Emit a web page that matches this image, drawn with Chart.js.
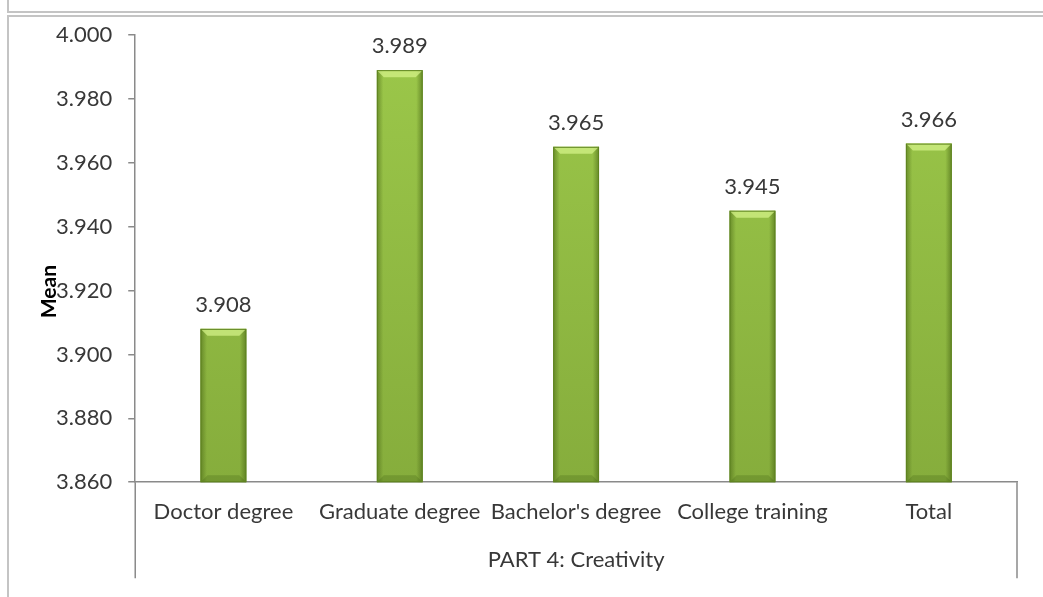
<!DOCTYPE html>
<html>
<head>
<meta charset="utf-8">
<script src="https://cdn.jsdelivr.net/npm/chart.js@4"></script>
<style>
  body { margin: 0; background: #fff; overflow: hidden; }
  #lienzo-caja { position: relative; width: 1043px; height: 597px; }
  .marco { position: absolute; border: 2px solid #c4c4c4; box-sizing: border-box; }
  #marco-sup { left: 7px; top: -4px; width: 1100px; height: 17px; }
  #marco-graf { left: 7px; top: 15px; width: 1100px; height: 700px; }
  canvas { position: absolute; left: 0; top: 0; }
</style>
</head>
<body>
<div id="lienzo-caja">
  <div class="marco" id="marco-sup"></div>
  <div class="marco" id="marco-graf"></div>
  <canvas id="grafica" width="1043" height="597"></canvas>
</div>
<script>
// Datos del gráfico
const categorias = ["Doctor degree", "Graduate degree", "Bachelor's degree", "College training", "Total"];
const medias = [3.908, 3.989, 3.965, 3.945, 3.966];
const ejeMin = 3.86;
const ejeMax = 4.0;
const ejePaso = 0.02;
const tituloEjeX = "PART 4: Creativity";
const tituloEjeY = "Mean";

const fuente = "Lato, 'DejaVu Sans', sans-serif";
const tamFuente = 22;
const colorTexto = "#383838";
const colorEje = "#8a8a8a";

// Etiquetas de valor sobre cada barra
const etiquetasValor = {
  id: "etiquetasValor",
  afterDatasetsDraw(chart) {
    const ctx = chart.ctx;
    const barras = chart.getDatasetMeta(0).data;
    ctx.save();
    ctx.font = `${tamFuente}px ${fuente}`;
    ctx.fillStyle = colorTexto;
    ctx.textAlign = "center";
    ctx.textBaseline = "alphabetic";
    barras.forEach((barra, i) => {
      ctx.fillText(medias[i].toFixed(3), barra.x, barra.y - 17);
    });
    ctx.restore();
  },
};

// Sombreado lateral y bisel de las barras
const biselBarras = {
  id: "biselBarras",
  afterDatasetsDraw(chart) {
    const ctx = chart.ctx;
    const area = chart.chartArea;
    const barras = chart.getDatasetMeta(0).data;
    ctx.save();
    barras.forEach((barra) => {
      const izq = barra.x - barra.width / 2;
      const der = barra.x + barra.width / 2;
      const arriba = barra.y;
      const abajo = Math.min(barra.base, area.bottom);
      const b = 7;

      const lateral = ctx.createLinearGradient(izq, 0, der, 0);
      lateral.addColorStop(0, "rgba(70,100,20,0.55)");
      lateral.addColorStop(0.14, "rgba(70,100,20,0.0)");
      lateral.addColorStop(0.86, "rgba(70,100,20,0.0)");
      lateral.addColorStop(1, "rgba(70,100,20,0.6)");
      ctx.fillStyle = lateral;
      ctx.fillRect(izq, arriba, der - izq, abajo - arriba);

      // bisel de arriba
      ctx.fillStyle = "rgba(215,245,140,0.7)";
      ctx.beginPath();
      ctx.moveTo(izq, arriba);
      ctx.lineTo(der, arriba);
      ctx.lineTo(der - b, arriba + b);
      ctx.lineTo(izq + b, arriba + b);
      ctx.closePath();
      ctx.fill();

      // bisel de abajo, más suave
      ctx.fillStyle = "rgba(60,90,15,0.25)";
      ctx.beginPath();
      ctx.moveTo(izq, abajo);
      ctx.lineTo(der, abajo);
      ctx.lineTo(der - b, abajo - b);
      ctx.lineTo(izq + b, abajo - b);
      ctx.closePath();
      ctx.fill();

      ctx.strokeStyle = "#5f8420";
      ctx.lineWidth = 1;
      ctx.strokeRect(izq + 0.5, arriba + 0.5, der - izq - 1, abajo - arriba - 1);
    });
    ctx.restore();
  },
};

// Separadores de la categoría y título vertical del eje Y
const decoracionEjes = {
  id: "decoracionEjes",
  afterDraw(chart) {
    const ctx = chart.ctx;
    const area = chart.chartArea;
    ctx.save();
    ctx.strokeStyle = colorEje;
    ctx.lineWidth = 1.5;
    ctx.beginPath();
    ctx.moveTo(area.left, area.bottom);
    ctx.lineTo(area.left, area.bottom + 96);
    ctx.moveTo(area.right, area.bottom);
    ctx.lineTo(area.right, area.bottom + 96);
    ctx.stroke();

    ctx.translate(49, (area.top + area.bottom) / 2 + 33);
    ctx.rotate(-Math.PI / 2);
    ctx.font = `bold 21px ${fuente}`;
    ctx.fillStyle = "#000";
    ctx.textAlign = "center";
    ctx.textBaseline = "middle";
    ctx.fillText(tituloEjeY, 0, 0);
    ctx.restore();
  },
};

const contexto = document.getElementById("grafica");

new Chart(contexto, {
  type: "bar",
  data: {
    labels: categorias,
    datasets: [
      {
        data: medias,
        backgroundColor: (c) => {
          const area = c.chart.chartArea;
          if (!area) return "#8db540";
          const g = c.chart.ctx.createLinearGradient(0, area.top, 0, area.bottom);
          g.addColorStop(0, "#9cc84a");
          g.addColorStop(1, "#86ad3c");
          return g;
        },
        borderWidth: 0,
        barPercentage: 0.26,
        categoryPercentage: 1,
      },
    ],
  },
  options: {
    responsive: false,
    animation: false,
    layout: {
      padding: { left: 40, right: 26, top: 35, bottom: 20 },
    },
    plugins: {
      legend: { display: false },
      tooltip: { enabled: false },
    },
    scales: {
      x: {
        grid: { display: false, drawTicks: false },
        border: { display: true, color: colorEje, width: 1.5 },
        ticks: {
          color: colorTexto,
          font: { family: fuente, size: tamFuente },
          padding: 17,
          maxRotation: 0,
          autoSkip: false,
        },
        title: {
          display: true,
          text: tituloEjeX,
          color: colorTexto,
          font: { family: fuente, size: tamFuente },
          padding: { top: 4, bottom: 4 },
        },
      },
      y: {
        min: ejeMin,
        max: ejeMax,
        grid: {
          drawOnChartArea: false,
          drawTicks: true,
          tickLength: 7,
          color: colorEje,
          lineWidth: 1.5,
        },
        border: { display: true, color: colorEje, width: 1.5 },
        ticks: {
          stepSize: ejePaso,
          color: colorTexto,
          font: { family: fuente, size: tamFuente },
          padding: 16,
          callback: (valor) => valor.toFixed(3),
        },
      },
    },
  },
  plugins: [biselBarras, etiquetasValor, decoracionEjes],
});
</script>
</body>
</html>
